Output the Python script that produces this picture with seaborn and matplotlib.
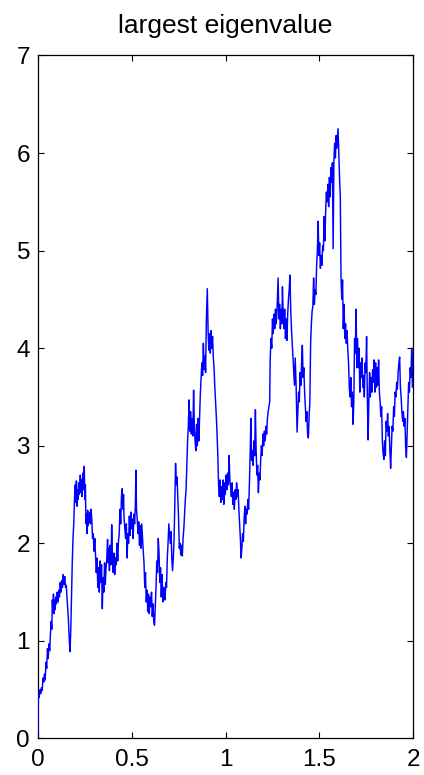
import matplotlib
matplotlib.use("Agg")
import matplotlib.pyplot as plt
import seaborn as sns
import pandas as pd

# Path of the largest eigenvalue over time
t_vals = [
    0.000, 0.002, 0.004, 0.008, 0.012, 0.016, 0.020, 0.024, 0.028, 0.032,
    0.036, 0.040, 0.044, 0.048, 0.052, 0.056, 0.060, 0.064, 0.068, 0.072,
    0.075, 0.078, 0.081, 0.084, 0.087, 0.090, 0.093, 0.096, 0.100, 0.104,
    0.108, 0.112, 0.116, 0.120, 0.124, 0.128, 0.132, 0.136, 0.140, 0.144,
    0.148, 0.152, 0.156, 0.160, 0.164, 0.168, 0.172, 0.176, 0.180, 0.184,
    0.188, 0.192, 0.196, 0.200, 0.203, 0.206, 0.209, 0.212, 0.215, 0.218,
    0.221, 0.224, 0.227, 0.230, 0.233, 0.236, 0.240, 0.244, 0.248, 0.251,
    0.254, 0.257, 0.260, 0.263, 0.266, 0.269, 0.272, 0.275, 0.278, 0.281,
    0.284, 0.288, 0.292, 0.296, 0.300, 0.304, 0.308, 0.312, 0.316, 0.320,
    0.324, 0.328, 0.332, 0.336, 0.340,
    0.344, 0.348, 0.352, 0.356, 0.360, 0.364, 0.368, 0.372, 0.375, 0.378,
    0.382, 0.386, 0.390, 0.394, 0.398, 0.402, 0.406, 0.410, 0.414, 0.418,
    0.422, 0.426, 0.430, 0.434, 0.438, 0.442, 0.446, 0.450, 0.454, 0.457,
    0.460, 0.464, 0.468, 0.472, 0.476, 0.480, 0.484, 0.488, 0.492, 0.496,
    0.500, 0.504, 0.508, 0.512, 0.516, 0.520, 0.523, 0.526, 0.530, 0.534,
    0.538, 0.542, 0.546, 0.550, 0.554, 0.558, 0.562, 0.566, 0.570, 0.574,
    0.578, 0.582, 0.586, 0.590, 0.594, 0.598, 0.602, 0.606, 0.610, 0.614,
    0.618, 0.622, 0.626, 0.630, 0.634, 0.638, 0.642, 0.646, 0.650, 0.654,
    0.658, 0.662, 0.666, 0.670,
    0.674, 0.678, 0.682, 0.686, 0.690, 0.694, 0.698, 0.702, 0.706, 0.710,
    0.714, 0.718, 0.722, 0.726, 0.730, 0.734, 0.738, 0.742, 0.746, 0.750,
    0.754, 0.758, 0.762, 0.766, 0.770, 0.774, 0.778, 0.782, 0.786, 0.790,
    0.794, 0.798, 0.802, 0.806, 0.810, 0.814, 0.818, 0.822, 0.826, 0.830,
    0.834, 0.838, 0.842, 0.846, 0.850, 0.854, 0.858, 0.862, 0.866, 0.870,
    0.874, 0.878, 0.882, 0.886, 0.890, 0.894, 0.898, 0.903, 0.907, 0.911,
    0.915, 0.919, 0.923, 0.927, 0.931, 0.935, 0.939, 0.943, 0.947, 0.951,
    0.955, 0.959, 0.963, 0.967, 0.971, 0.975, 0.979, 0.983, 0.987, 0.991,
    0.995, 0.999, 1.003, 1.007, 1.011, 1.015, 1.019, 1.023,
    1.027, 1.031, 1.035, 1.039, 1.043, 1.047, 1.051, 1.055, 1.059, 1.063,
    1.067, 1.071, 1.075, 1.079, 1.083, 1.087, 1.091, 1.095, 1.099, 1.103,
    1.107, 1.111, 1.115, 1.119, 1.123, 1.127, 1.131, 1.135, 1.139, 1.143,
    1.147, 1.151, 1.155, 1.159, 1.163, 1.167, 1.171, 1.175, 1.179, 1.183,
    1.187, 1.191, 1.195, 1.199, 1.203, 1.207, 1.211, 1.215, 1.219, 1.223,
    1.227, 1.231, 1.235, 1.238, 1.242, 1.246, 1.250, 1.254, 1.258, 1.262,
    1.266, 1.270, 1.274, 1.280, 1.284, 1.288, 1.292, 1.296, 1.300, 1.303,
    1.307, 1.311, 1.315, 1.319, 1.323, 1.327, 1.331, 1.335, 1.339, 1.343,
    1.347, 1.351, 1.355, 1.359, 1.363, 1.367, 1.371,
    1.376, 1.381, 1.385, 1.389, 1.393, 1.397, 1.401, 1.405, 1.409, 1.413,
    1.417, 1.421, 1.425, 1.429, 1.433, 1.437, 1.441, 1.445, 1.449, 1.453,
    1.457, 1.461, 1.465, 1.469, 1.473, 1.477, 1.481, 1.485, 1.489, 1.493,
    1.497, 1.501, 1.505, 1.509, 1.513, 1.517, 1.521, 1.525, 1.529, 1.533,
    1.537, 1.541, 1.545, 1.549, 1.553, 1.557, 1.561, 1.565, 1.569, 1.573,
    1.577, 1.581, 1.585, 1.589, 1.593, 1.599, 1.603, 1.607, 1.611, 1.615,
    1.619, 1.623, 1.627, 1.631, 1.635, 1.639, 1.643, 1.647, 1.651, 1.655,
    1.659, 1.663, 1.667, 1.671, 1.675, 1.679, 1.683, 1.687, 1.691, 1.695,
    1.699,
    1.703, 1.707, 1.711, 1.715, 1.719, 1.723, 1.727, 1.731, 1.735, 1.739,
    1.743, 1.747, 1.751, 1.755, 1.759, 1.763, 1.767, 1.771, 1.775, 1.779,
    1.783, 1.787, 1.791, 1.795, 1.799, 1.803, 1.807, 1.811, 1.815, 1.819,
    1.823, 1.827, 1.831, 1.835, 1.839, 1.843, 1.847, 1.851, 1.855, 1.859,
    1.863, 1.867, 1.871, 1.875, 1.879, 1.883, 1.887, 1.891, 1.895, 1.899,
    1.903, 1.907, 1.911, 1.915, 1.919, 1.923, 1.927, 1.931, 1.935, 1.939,
    1.943, 1.947, 1.951, 1.955, 1.959, 1.963, 1.967, 1.971, 1.975, 1.979,
    1.983, 1.987, 1.991, 1.995, 2.000,
]

eig_vals = [
    0.00, 0.25, 0.46, 0.42, 0.50, 0.46, 0.52, 0.49, 0.62, 0.58,
    0.66, 0.60, 0.78, 0.72, 0.92, 0.82, 0.97, 0.90, 1.08, 1.20,
    1.12, 1.42, 1.30, 1.48, 1.28, 1.42, 1.32, 1.45, 1.38, 1.50,
    1.40, 1.52, 1.45, 1.60, 1.50, 1.62, 1.55, 1.68, 1.58, 1.66,
    1.55, 1.57, 1.45, 1.33, 1.20, 1.02, 0.89, 1.10, 1.45, 1.80,
    2.05, 2.20, 2.45, 2.60, 2.42, 2.64, 2.38, 2.55, 2.45, 2.62,
    2.50, 2.58, 2.70, 2.52, 2.65, 2.48, 2.72, 2.55, 2.79, 2.45,
    2.60, 2.20, 2.30, 2.10, 2.34, 2.18, 2.30, 2.22, 2.32, 2.20,
    2.35, 2.25, 2.05, 2.10, 1.92, 2.05, 1.88, 1.70, 1.85, 1.55,
    1.75, 1.50, 1.82, 1.60, 1.78,
    1.33, 1.65, 1.50, 1.80, 1.58, 1.75, 1.85, 2.04, 1.80, 1.95,
    1.72, 1.98, 1.78, 2.19, 1.85, 1.70, 1.90, 1.68, 1.85, 1.78,
    2.00, 1.82, 2.02, 2.10, 2.35, 2.20, 2.48, 2.56, 2.35, 2.50,
    2.25, 2.15, 2.05, 2.20, 1.85, 2.10, 2.00, 2.28, 2.08, 2.32,
    2.15, 2.25, 2.05, 2.30, 2.20, 2.40, 2.75, 2.35, 2.25, 2.10,
    2.22, 1.98, 2.18, 1.95, 2.20, 2.05, 1.92, 1.80, 1.55, 1.70,
    1.40, 1.52, 1.30, 1.48, 1.28, 1.45, 1.35, 1.50, 1.25, 1.38,
    1.20, 1.16, 1.35, 1.55, 1.82, 1.70, 2.05, 1.90, 1.60, 1.75,
    1.45, 1.68, 1.40, 1.55,
    1.52, 1.42, 1.60, 1.55, 1.85, 2.00, 2.20, 2.10, 2.00, 2.12,
    1.85, 1.72, 1.85, 2.05, 2.40, 2.82, 2.60, 2.68, 2.45, 2.25,
    1.95, 2.00, 1.88, 1.98, 1.87, 2.05, 2.15, 2.30, 2.45, 2.55,
    2.80, 3.05, 3.20, 3.47, 3.15, 3.35, 3.12, 3.28, 3.10, 3.57,
    3.20, 3.05, 2.95, 3.22, 3.00, 3.28, 3.05, 3.30, 3.54, 3.70,
    3.85, 3.72, 4.05, 3.78, 3.92, 3.75, 4.30, 4.61, 4.20, 3.98,
    4.15, 3.95, 4.18, 4.00, 4.12, 3.90, 3.80, 3.60, 3.45, 3.30,
    3.12, 2.90, 2.60, 2.48, 2.65, 2.42, 2.58, 2.45, 2.65, 2.40,
    2.62, 2.50, 2.70, 2.55, 2.72, 2.60, 2.90, 2.65,
    2.58, 2.48, 2.62, 2.40, 2.52, 2.35, 2.55, 2.45, 2.62, 2.48,
    2.55, 2.35, 2.20, 2.05, 1.85, 1.95, 2.10, 2.02, 2.25, 2.38,
    2.20, 2.35, 2.30, 2.45, 2.35, 2.60, 2.90, 3.28, 2.85, 2.95,
    2.80, 3.05, 2.90, 3.37, 2.95, 2.70, 2.80, 2.52, 2.72, 2.65,
    2.85, 3.00, 2.90, 3.12, 3.00, 3.15, 3.05, 3.20, 3.12, 3.28,
    3.35, 3.40, 3.45, 3.90, 4.10, 4.00, 4.30, 4.15, 4.35, 4.20,
    4.40, 4.25, 4.38, 4.72, 4.30, 4.45, 4.20, 4.40, 4.25, 4.63,
    4.35, 4.20, 4.40, 4.10, 4.30, 4.08, 4.35, 4.50, 4.60, 4.75,
    4.40, 4.20, 4.05, 3.90, 3.75, 3.62, 3.90,
    3.60, 3.14, 3.35, 3.55, 3.45, 3.75, 3.62, 3.85, 4.03, 3.70,
    3.80, 3.55, 3.40, 3.25, 3.35, 3.12, 3.08, 3.30, 3.45, 4.05,
    4.25, 4.38, 4.43, 4.72, 4.45, 4.60, 4.55, 4.85, 5.00, 5.30,
    4.95, 5.08, 4.82, 4.95, 4.85, 5.05, 5.00, 5.35, 5.10, 5.40,
    5.60, 5.50, 5.68, 5.45, 5.75, 5.55, 5.85, 5.70, 5.90, 5.02,
    5.92, 6.10, 5.95, 6.18, 6.05, 6.25, 6.00, 5.75, 5.55, 4.70,
    4.50, 4.70, 4.20, 4.45, 4.10, 4.25, 4.05, 4.18, 3.98, 3.85,
    3.60, 3.50, 3.70, 3.40, 3.55, 3.22, 3.45, 4.10, 3.95, 4.40,
    3.80,
    4.10, 3.80, 4.00, 3.55, 3.85, 3.70, 3.90, 3.60, 3.72, 3.50,
    3.85, 3.75, 4.12, 3.50, 3.06, 3.45, 3.75, 3.50, 3.70, 3.55,
    3.78, 3.65, 3.88, 3.55, 3.85, 3.60, 3.80, 3.62, 3.88, 3.55,
    3.45, 3.30, 3.40, 3.05, 2.92, 2.86, 3.05, 2.90, 3.25, 3.15,
    3.33, 3.10, 3.20, 2.95, 2.77, 3.00, 3.20, 3.15, 3.40, 3.30,
    3.55, 3.50, 3.65, 3.58, 3.75, 3.85, 3.91, 3.60, 3.50, 3.35,
    3.25, 3.35, 3.20, 3.28, 3.00, 2.88, 3.15, 3.40, 3.65, 3.55,
    3.80, 3.70, 4.00, 3.60, 3.95,
]

x_ticks = [0, 0.5, 1, 1.5, 2]
x_tick_labels = ["0", "0.5", "1", "1.5", "2"]
y_ticks = [0, 1, 2, 3, 4, 5, 6, 7]
y_tick_labels = ["0", "1", "2", "3", "4", "5", "6", "7"]
title_text = "largest eigenvalue"

df = pd.DataFrame({"t": t_vals, "lam": eig_vals})

sns.set_style("ticks", {"xtick.direction": "in", "ytick.direction": "in"})
plt.rcParams["font.family"] = ["Liberation Sans", "DejaVu Sans"]

fig = plt.figure(figsize=(4.24, 7.75), dpi=100)
ax = fig.add_axes([0.0889, 0.0471, 0.886, 0.8813])

sns.lineplot(data=df, x="t", y="lam", ax=ax, color="#0000ff", linewidth=1.05,
             sort=False, estimator=None, zorder=3)

ax.set_xlim(0, 2)
ax.set_ylim(0, 7)
ax.set_xticks(x_ticks)
ax.set_xticklabels(x_tick_labels)
ax.set_yticks(y_ticks)
ax.set_yticklabels(y_tick_labels)
ax.set_xlabel("")
ax.set_ylabel("")

ax.tick_params(direction="in", length=4.5, width=0.8, colors="black",
               top=True, right=True, labelsize=17.5)
ax.tick_params(axis="x", pad=7.5)
ax.tick_params(axis="y", pad=5.5)
for side in ax.spines.values():
    side.set_visible(True)
    side.set_linewidth(0.9)
    side.set_color("black")
    side.set_zorder(2.5)

ax.set_title(title_text, fontsize=19, pad=16, color="black")

fig.savefig("out.png", dpi=100, facecolor="white")
